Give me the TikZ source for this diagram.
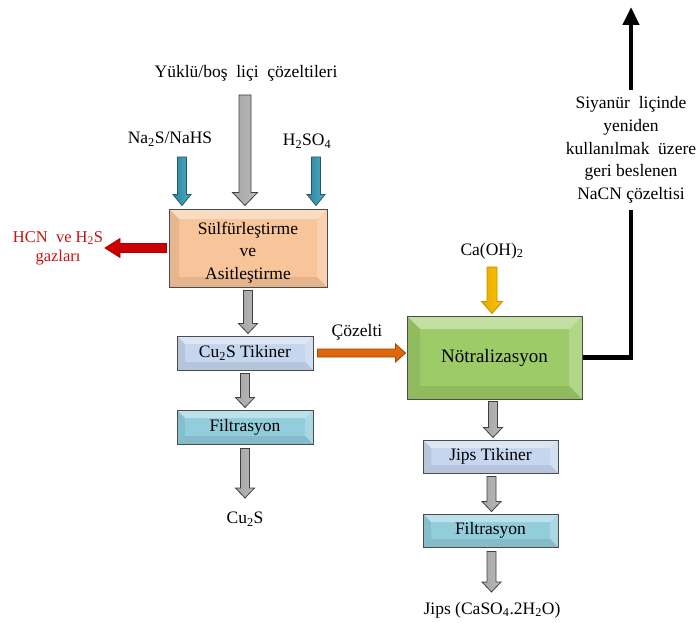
\documentclass[tikz,border=0pt]{standalone}
\usepackage{fontspec}
\setmainfont{Liberation Serif}
\usetikzlibrary{calc,arrows.meta}
\definecolor{orangebox}{HTML}{F8C59A}
\definecolor{tikblue}{HTML}{C5D6EE}
\definecolor{filtcyan}{HTML}{92CDDC}
\definecolor{neutgreen}{HTML}{9CCB67}
\definecolor{redtext}{HTML}{CC1111}
\newcommand\DArr[6]{\path[#1] let \p1=(#2), \p2=(#3) in
 (\x1-#4,\y1) -- (\x1-#4,\y2+#6) -- (\x1-#5,\y2+#6) -- (\x1,\y2) -- (\x1+#5,\y2+#6) -- (\x1+#4,\y2+#6) -- (\x1+#4,\y1) -- cycle;}
\newcommand\RArr[6]{\path[#1] let \p1=(#2), \p2=(#3) in
 (\x1,\y1-#4) -- (\x2-#6,\y1-#4) -- (\x2-#6,\y1-#5) -- (\x2,\y1) -- (\x2-#6,\y1+#5) -- (\x2-#6,\y1+#4) -- (\x1,\y1+#4) -- cycle;}
\newcommand\LArr[6]{\path[#1] let \p1=(#2), \p2=(#3) in
 (\x1,\y1-#4) -- (\x2+#6,\y1-#4) -- (\x2+#6,\y1-#5) -- (\x2,\y1) -- (\x2+#6,\y1+#5) -- (\x2+#6,\y1+#4) -- (\x1,\y1+#4) -- cycle;}
\tikzset{
 bevelsize/.store in=\bvsz, bevelsize=8pt,
 bevelbox/.style={draw=black!70, line width=1pt, fill=#1, inner sep=0pt, align=center,
  path picture={
   \fill[white,opacity=.40] (path picture bounding box.north west) -- (path picture bounding box.north east)
     -- ($(path picture bounding box.north east)+(-\bvsz,-\bvsz)$) -- ($(path picture bounding box.north west)+(\bvsz,-\bvsz)$) -- cycle;
   \fill[black,opacity=.07] (path picture bounding box.north west) -- ($(path picture bounding box.north west)+(\bvsz,-\bvsz)$)
     -- ($(path picture bounding box.south west)+(\bvsz,\bvsz)$) -- (path picture bounding box.south west) -- cycle;
   \fill[white,opacity=.22] (path picture bounding box.north east) -- (path picture bounding box.south east)
     -- ($(path picture bounding box.south east)+(-\bvsz,\bvsz)$) -- ($(path picture bounding box.north east)+(-\bvsz,-\bvsz)$) -- cycle;
   \fill[black,opacity=.08] (path picture bounding box.south west) -- ($(path picture bounding box.south west)+(\bvsz,\bvsz)$)
     -- ($(path picture bounding box.south east)+(-\bvsz,\bvsz)$) -- (path picture bounding box.south east) -- cycle;
  }},
 grayarr/.style={draw=black!75, line width=0.8pt, left color=gray!70, middle color=gray!12, right color=gray!55},
 bluearr/.style={draw={rgb,255:red,33;green,89;blue,104}, line width=0.8pt, left color={rgb,255:red,49;green,133;blue,156}, middle color={rgb,255:red,157;green,217;blue,234}, right color={rgb,255:red,75;green,172;blue,198}},
 yelarr/.style={draw={rgb,255:red,191;green,144;blue,0}, line width=0.8pt, left color={rgb,255:red,230;green,172;blue,0}, middle color={rgb,255:red,255;green,228;blue,110}, right color={rgb,255:red,255;green,192;blue,0}},
 redarr/.style={draw=red!70!black, line width=0.8pt, top color=red!85!black, middle color=red, bottom color=red!75!black},
 orarr/.style={draw={rgb,255:red,152;green,72;blue,7}, line width=0.8pt, top color={rgb,255:red,228;green,108;blue,10}, middle color={rgb,255:red,249;green,178;blue,122}, bottom color={rgb,255:red,217;green,98;blue,10}},
 lbl/.style={inner sep=1pt}
}
\begin{document}
\begin{tikzpicture}[x=1pt,y=-1pt, every node/.style={font=\fontsize{17.5}{22.7}\selectfont}]
\useasboundingbox (0,0) rectangle (699,623);
% nodes
\node[lbl] (feed) at (246,73) {Yüklü/boş\ \ liçi\ \ çözeltileri};
\node[lbl] (na) at (170,139) {Na\textsubscript{2}S/NaHS};
\node[lbl] (h2so4) at (307,141) {H\textsubscript{2}SO\textsubscript{4}};
\node[bevelbox=orangebox, bevelsize=10pt, minimum width=158pt, minimum height=78pt] (sulf) at (248,248)
  {\raisebox{-8.5pt}[0pt][0pt]{\begin{tabular}{@{}c@{}}Sülfürleştirme\\ve\\Asitleştirme\end{tabular}}};
\node[lbl, text=redtext, align=center, font=\fontsize{16.5}{19}\selectfont] (hcn) at (58,248) {HCN\ \ ve H\textsubscript{2}S\\gazları};
\node[bevelbox=tikblue, bevelsize=8pt, minimum width=136pt, minimum height=34pt] (tik1) at (245,353) {Cu\textsubscript{2}S Tikiner};
\node[bevelbox=filtcyan, bevelsize=8pt, minimum width=136pt, minimum height=34pt] (filt1) at (245,427) {Filtrasyon};
\node[lbl] (cu2s) at (245,519) {Cu\textsubscript{2}S};
\node[lbl] (coz) at (357,332) {Çözelti};
\node[bevelbox=neutgreen, bevelsize=13pt, minimum width=175pt, minimum height=83pt, font=\fontsize{19}{22.7}\selectfont] (neut) at (494.5,357.5) {Nötralizasyon};
\node[lbl] (caoh) at (492,251) {Ca(OH)\textsubscript{2}};
\node[bevelbox=tikblue, bevelsize=8pt, minimum width=135pt, minimum height=33pt] (tik2) at (490.5,456.5) {Jips Tikiner};
\node[bevelbox=filtcyan, bevelsize=8pt, minimum width=135pt, minimum height=33pt] (filt2) at (490.5,530.5) {Filtrasyon};
\node[lbl] (jips) at (492,610) {Jips (CaSO\textsubscript{4}.2H\textsubscript{2}O)};
\node[align=center, inner xsep=0pt, inner ysep=6pt] (recyc) at (631,150) {Siyanür\ \ liçinde\\yeniden\\kullanılmak\ \ üzere\\geri beslenen\\NaCN çözeltisi};
% free ends
\coordinate (feedtop) at (245,95);
\coordinate (natop) at (182,157);
\coordinate (htop) at (316,157);
\coordinate (hcnend) at (105,248);
\coordinate (cu2send) at (245,498);
\coordinate (catop) at (492,267);
\coordinate (jipsend) at (490.5,592);
\coordinate (rtop) at (631,7);
% block arrows
\DArr{grayarr}{feedtop}{$(sulf.north)+(0,-3)$}{6pt}{12.5pt}{13pt}
\DArr{bluearr}{natop}{$(sulf.north)+(0,-3)$}{4.5pt}{9pt}{11pt}
\DArr{bluearr}{htop}{$(sulf.north)+(0,-3)$}{4.5pt}{9pt}{11pt}
\LArr{redarr}{$(sulf.west)+(-2,0)$}{hcnend}{4.5pt}{9.5pt}{15pt}
\DArr{grayarr}{$(sulf.south)+(0,3)$}{$(tik1.north)+(0,-2)$}{4.5pt}{9.5pt}{10pt}
\DArr{grayarr}{$(tik1.south)+(0,3)$}{$(filt1.north)+(0,-2)$}{4.5pt}{9.5pt}{10pt}
\DArr{grayarr}{$(filt1.south)+(0,4)$}{cu2send}{4.5pt}{9.5pt}{10pt}
\RArr{orarr}{$(tik1.east)+(4,0)$}{$(neut.west)+(-1,0)$}{4pt}{9pt}{10pt}
\DArr{yelarr}{catop}{$(neut.north)+(0,-2)$}{5pt}{10.5pt}{12pt}
\DArr{grayarr}{$(neut.south)+(-1.5,2)$}{$(tik2.north)+(0,-2)$}{4.5pt}{9.5pt}{10pt}
\DArr{grayarr}{$(tik2.south)+(1,3)$}{$(filt2.north)+(0,-2)$}{4.5pt}{9.5pt}{10pt}
\DArr{grayarr}{$(filt2.south)+(1,4)$}{jipsend}{4.5pt}{9.5pt}{10pt}
% recycle line
\draw[line width=4.5pt] (neut.east) -| (recyc.south);
\draw[line width=4.5pt, -{Triangle[length=18pt,width=16pt]}] (recyc.north) -- (rtop);
\end{tikzpicture}
\end{document}
